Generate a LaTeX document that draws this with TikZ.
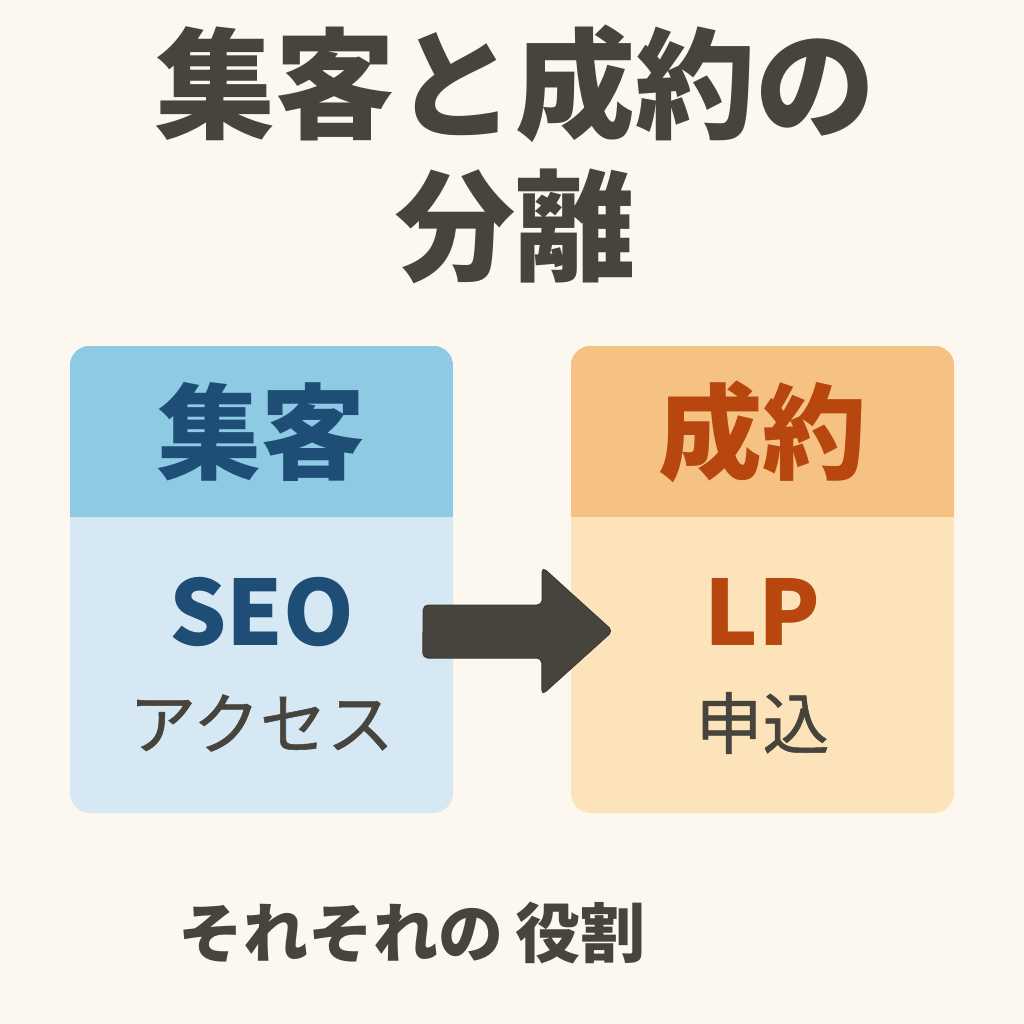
\documentclass[tikz,border=0pt]{standalone}
\usepackage{fontspec}
\newfontfamily\jpfont{Noto Sans CJK JP}
\newfontfamily\jpmid[FakeBold=0.8]{Noto Sans CJK JP}

\begin{document}
\begin{tikzpicture}[x=1pt,y=-1pt,
  every node/.style={inner sep=0pt,font=\jpfont},
  card/.style={minimum width=383pt,minimum height=467pt,rounded corners=20pt},
  headtext/.style={font=\jpfont\bfseries\fontsize{104}{104}\selectfont},
  keytext/.style={font=\jpfont\bfseries\fontsize{90}{90}\selectfont},
  subtext/.style={font=\jpmid\fontsize{67}{67}\selectfont,text=ink},
  blockarrow/.style={fill=ink,draw=ink!85!black,line width=1pt,rounded corners=5pt}]
 \definecolor{paper}{HTML}{FDF8EF}
 \definecolor{ink}{HTML}{47443D}
 \definecolor{seohead}{HTML}{8FCAE4}
 \definecolor{seolow}{HTML}{D5E8F4}
 \definecolor{seotext}{HTML}{1E4E75}
 \definecolor{lphead}{HTML}{F6C283}
 \definecolor{lplow}{HTML}{FCE3B9}
 \definecolor{lptext}{HTML}{B7470F}
 \fill[paper] (0,0) rectangle (1024,1024);
 % title
 \node[font=\jpfont\bfseries\fontsize{120}{120}\selectfont,text=ink]
   (title top) at (515,84) {集客と成約の};
 \node[font=\jpfont\bfseries\fontsize{120}{120}\selectfont,text=ink]
   (title bottom) at (515,226) {分離};
 % the two cards
 \foreach \name/\xc/\head/\low in {seo/261.5/seohead/seolow,
   lp/762.5/lphead/lplow} {
   \node[card,fill=\low] (card \name) at (\xc,579.5) {};
   \begin{scope}
     \clip[rounded corners=20pt]
     (card \name.north west) rectangle (card \name.south east);
     \fill[\head] (card \name.north west)
     rectangle ([yshift=-171pt]card \name.north east);
   \end{scope}
 }
 \foreach \name/\xc/\ttl/\key/\sub/\col in {seo/261.5/集客/SEO/アクセス/seotext,
   lp/762.5/成約/LP/申込/lptext} {
   \node[headtext,text=\col] (head \name) at (\xc,432) {\ttl};
   \node[keytext,text=\col] (key \name) at (\xc,612) {\key};
   \node[subtext] (sub \name) at (\xc,723) {\sub};
 }
 % arrow
 \coordinate (tail) at ([xshift=-30pt,yshift=-51.5pt]card seo.east);
 \coordinate (tip) at ([xshift=42pt,yshift=-51.5pt]card lp.west);
 \draw[blockarrow] (tail) ++(0,-26) -- ++(119,0) -- ++(0,-38)
   -- (tip) -- ++(-71,64) -- ++(0,-37) -- ++(-119,0) -- cycle;
 % caption
 \node[font=\jpfont\bfseries\fontsize{65}{65}\selectfont,text=ink]
   (roles) at (412,933) {それそれの\hspace{12pt}役割};
\end{tikzpicture}
\end{document}
